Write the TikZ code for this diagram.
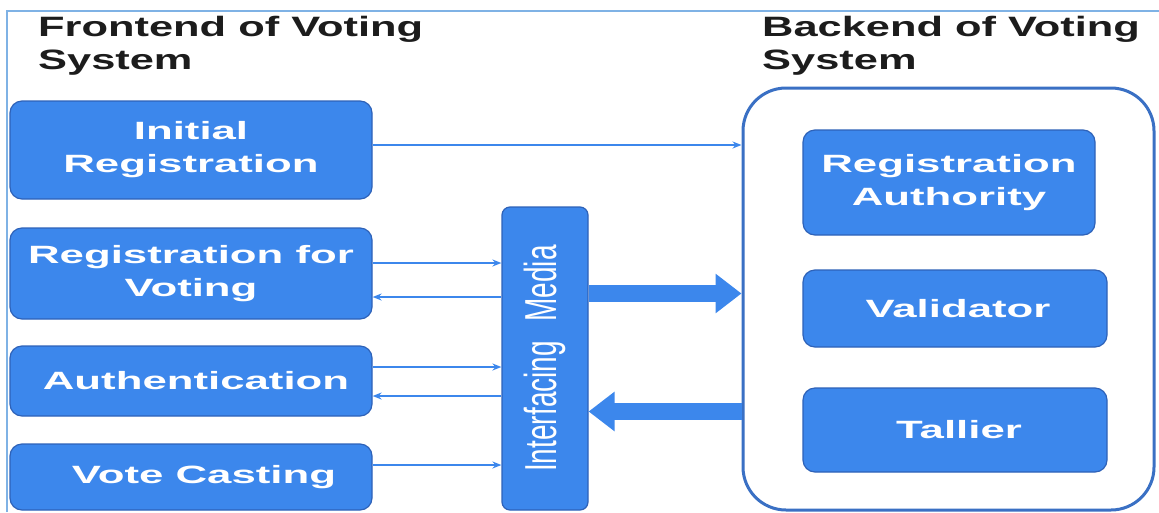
\documentclass[tikz,border=0pt]{standalone}
\usepackage{fontspec}
\setmainfont{Liberation Sans}
\newfontfamily\widefont[FakeStretch=1.75]{Liberation Sans}
\newfontfamily\titlefont[FakeStretch=1.55]{Liberation Sans}
\usetikzlibrary{arrows.meta,positioning}
\definecolor{boxblue}{HTML}{3C87EC}
\definecolor{boxedge}{HTML}{2E62B8}
\definecolor{backedge}{HTML}{3A70C4}
\definecolor{framebl}{HTML}{7FB2E5}
\definecolor{inkgray}{HTML}{1C1C1C}
\tikzset{>=Stealth}
\tikzset{
  fbox/.style={draw=boxedge,line width=1.2pt,fill=boxblue,rounded corners=12pt,
    text=white,align=center,inner sep=0pt,
    font=\widefont\bfseries\fontsize{25}{33}\selectfont},
  heading/.style={anchor=base west,align=left,inner sep=0pt,text=inkgray,
    font=\titlefont\bfseries\fontsize{28}{33}\selectfont},
  thinarr/.style={-{Stealth[length=9pt,width=7pt]},draw=boxblue,line width=1.7pt},
  bigarr/.style={-{Triangle[length=26pt,width=38pt]},draw=boxblue,line width=17pt}
}

\begin{document}
\begin{tikzpicture}[x=1pt,y=-1pt]
\useasboundingbox (0,0) rectangle (1159,512);
% page frame
\draw[framebl,line width=2pt] (7,512) -- (7,11) -- (1159,11);
% headings
\node[heading] (fronthead) at (38,69) {Frontend of Voting\\System};
\node[heading] (backhead) at (762,69) {Backend of Voting\\System};
% frontend
\node[fbox,minimum width=362pt,minimum height=98pt] (init) at (191,150) {Initial\\Registration};
\node[fbox,minimum width=362pt,minimum height=91pt] (regv) at (191,273.5) {Registration for\\Voting};
\node[fbox,minimum width=362pt,minimum height=70pt] (auth) at (191,381) {\hspace{10pt}Authentication};
\node[fbox,minimum width=362pt,minimum height=66pt] (vote) at (191,477) {\hspace{26pt}Vote Casting};
% interfacing media
\node[fbox,rounded corners=8pt,minimum width=86pt,minimum height=303pt,
  font=\fontsize{28}{28}\selectfont] (media) at (545,358.5)
  {\rotatebox{90}{\scalebox{1}[1.6]{Interfacing\hspace{0.7em}Media}}};
% backend
\node[draw=backedge,line width=3pt,rounded corners=43pt,fill=white,
  minimum width=411pt,minimum height=422pt] (backend) at (948.5,299) {};
\node[fbox,minimum width=292pt,minimum height=105pt] (ra) at (949,182.5) {Registration\\Authority};
\node[fbox,minimum width=304pt,minimum height=77pt] (val) at (955,308.5) {\hspace{6pt}Validator};
\node[fbox,minimum width=304pt,minimum height=84pt] (tal) at (955,430) {\hspace{8pt}Tallier};
% thin connectors
\draw[thinarr] ([yshift=5pt]init.east) -- ([yshift=5pt]init.east -| backend.west);
\draw[thinarr] ([yshift=10.5pt]regv.east) -- ([yshift=10.5pt]regv.east -| media.west);
\draw[thinarr] ([yshift=-23.5pt]regv.east -| media.west) -- ([yshift=-23.5pt]regv.east);
\draw[thinarr] ([yshift=14pt]auth.east) -- ([yshift=14pt]auth.east -| media.west);
\draw[thinarr] ([yshift=-15pt]auth.east -| media.west) -- ([yshift=-15pt]auth.east);
\draw[thinarr] ([yshift=12pt]vote.east) -- ([yshift=12pt]vote.east -| media.west);
% block arrows
\draw[bigarr] ([yshift=65pt]media.east) -- ([yshift=65pt]media.east -| backend.west);
\draw[bigarr] ([yshift=-53pt]media.east -| backend.west) -- ([yshift=-53pt]media.east);
\end{tikzpicture}
\end{document}
